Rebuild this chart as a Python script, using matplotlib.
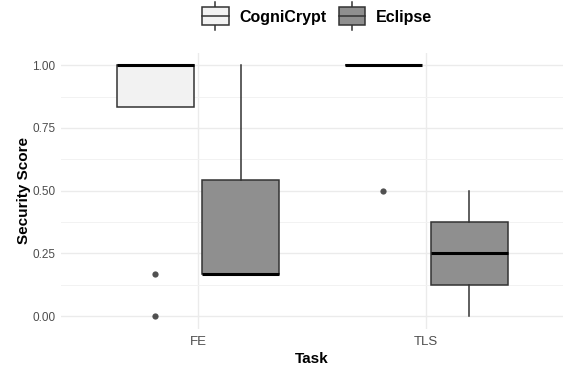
import numpy as np
import matplotlib
matplotlib.use("Agg")
import matplotlib.pyplot as plt
from matplotlib.legend_handler import HandlerBase
from matplotlib.patches import Rectangle, Patch
from matplotlib.lines import Line2D

plt.rcParams['font.family'] = ['Liberation Sans', 'DejaVu Sans']

tasks = ["FE", "TLS"]
tools = ["CogniCrypt", "Eclipse"]

# box stats, one value per task
cc_wlo = [0.833, 1.0]
cc_q1 = [0.833, 1.0]
cc_med = [1.0, 1.0]
cc_q3 = [1.0, 1.0]
cc_whi = [1.0, 1.0]
cc_fliers = [[0.0, 0.167], [0.5]]

ec_wlo = [0.167, 0.0]
ec_q1 = [0.167, 0.125]
ec_med = [0.167, 0.25]
ec_q3 = [0.542, 0.375]
ec_whi = [1.0, 0.5]
ec_fliers = [[], []]

fills = {"CogniCrypt": "#F2F2F2", "Eclipse": "#8F8F8F"}
edge = "#333333"


def make_stats(wlo, q1, med, q3, whi, fliers):
    out = []
    for i in range(len(tasks)):
        out.append(dict(whislo=wlo[i], q1=q1[i], med=med[i], q3=q3[i],
                        whishi=whi[i], fliers=fliers[i]))
    return out


stats = {
    "CogniCrypt": make_stats(cc_wlo, cc_q1, cc_med, cc_q3, cc_whi, cc_fliers),
    "Eclipse": make_stats(ec_wlo, ec_q1, ec_med, ec_q3, ec_whi, ec_fliers),
}

fig = plt.figure(figsize=(5.66, 3.68), dpi=100)
ax = fig.add_axes([0.108, 0.107, 0.887, 0.75])

x = np.arange(len(tasks))
offsets = {"CogniCrypt": -0.1875, "Eclipse": 0.1875}
for tool in tools:
    ax.bxp(stats[tool], positions=x + offsets[tool], widths=0.3375,
           patch_artist=True, showcaps=False,
           boxprops=dict(facecolor=fills[tool], edgecolor=edge, linewidth=1.1),
           medianprops=dict(color="black", linewidth=2.2, solid_capstyle="butt"),
           whiskerprops=dict(color=edge, linewidth=1.1),
           flierprops=dict(marker="o", markerfacecolor=edge, markeredgecolor="none",
                           markersize=4.5, alpha=0.85),
           zorder=3)

ax.set_xlim(-0.6, 1.6)
ax.set_ylim(-0.05, 1.05)
ax.set_xticks(x)
ax.set_xticklabels(tasks)
yt = [0, 0.25, 0.5, 0.75, 1.0]
ax.set_yticks(yt)
ax.set_yticklabels(["%.2f" % v for v in yt])
ax.set_yticks([0.125, 0.375, 0.625, 0.875], minor=True)
ax.grid(True, which="major", color="#EBEBEB", linewidth=1.0, zorder=0)
ax.grid(True, which="minor", axis="y", color="#F2F2F2", linewidth=0.7, zorder=0)
ax.set_axisbelow(True)
for s in ax.spines.values():
    s.set_visible(False)
ax.tick_params(which="both", length=0, labelcolor="#4D4D4D", labelsize=8.5, pad=4)
ax.tick_params(axis="x", labelsize=9.5, pad=5)
ax.set_xlabel("Task", fontsize=11, fontweight="bold", labelpad=3)
ax.set_ylabel("Security Score", fontsize=11, fontweight="bold", labelpad=1)


class HandlerBox(HandlerBase):
    def create_artists(self, legend, orig_handle, xdescent, ydescent,
                       width, height, fontsize, trans):
        fc = orig_handle.get_facecolor()
        cx = width / 2 - xdescent
        cy = height / 2 - ydescent
        bh = height * 1.6
        by = cy - bh / 2
        top = cy + height * 1.25
        bot = cy - height * 1.25
        w1 = Line2D([cx, cx], [by + bh, top], color=edge, lw=1.1, transform=trans)
        w2 = Line2D([cx, cx], [bot, by], color=edge, lw=1.1, transform=trans)
        r = Rectangle((-xdescent, by), width, bh, facecolor=fc, edgecolor=edge,
                      lw=1.1, transform=trans)
        m = Line2D([-xdescent, width - xdescent], [cy, cy],
                   color=edge, lw=1.1, transform=trans)
        return [w1, w2, r, m]


handles = [Patch(facecolor=fills[t]) for t in tools]
leg = fig.legend(handles, tools, loc="center", bbox_to_anchor=(0.56, 0.953),
                 ncol=2, frameon=False, handler_map={Patch: HandlerBox()},
                 prop=dict(size=11.5, weight="bold"), handlelength=1.65,
                 handletextpad=0.65, columnspacing=0.8)

fig.savefig("out.png", dpi=100)
